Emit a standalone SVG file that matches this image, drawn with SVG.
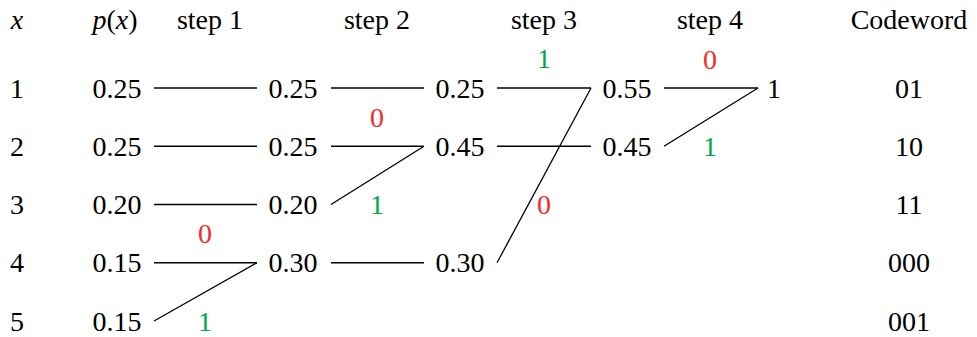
<svg xmlns="http://www.w3.org/2000/svg" width="977" height="337" viewBox="0 0 977 337">
<rect width="977" height="337" fill="#fff"/>
<g id="header" text-anchor="middle">
<text font-family="Liberation Serif" font-size="28" x="17" y="29" font-style="italic">x</text>
<text font-family="Liberation Serif" font-size="28" x="115" y="29"><tspan font-style="italic">p</tspan>(<tspan font-style="italic">x</tspan>)</text>
<text font-family="Liberation Serif" font-size="28" x="210" y="29">step 1</text>
<text font-family="Liberation Serif" font-size="28" x="377" y="29">step 2</text>
<text font-family="Liberation Serif" font-size="28" x="544" y="29">step 3</text>
<text font-family="Liberation Serif" font-size="28" x="710" y="29">step 4</text>
<text font-family="Liberation Serif" font-size="28" x="909" y="29">Codeword</text>
</g>
<g id="col-x" text-anchor="middle">
<text font-family="Liberation Serif" font-size="28" x="17" y="97.5">1</text>
<text font-family="Liberation Serif" font-size="28" x="17" y="155.75">2</text>
<text font-family="Liberation Serif" font-size="28" x="17" y="214">3</text>
<text font-family="Liberation Serif" font-size="28" x="17" y="272.25">4</text>
<text font-family="Liberation Serif" font-size="28" x="17" y="330.5">5</text>
</g>
<g id="col-p" text-anchor="middle">
<text font-family="Liberation Serif" font-size="28" x="117" y="97.5">0.25</text>
<text font-family="Liberation Serif" font-size="28" x="117" y="155.75">0.25</text>
<text font-family="Liberation Serif" font-size="28" x="117" y="214">0.20</text>
<text font-family="Liberation Serif" font-size="28" x="117" y="272.25">0.15</text>
<text font-family="Liberation Serif" font-size="28" x="117" y="330.5">0.15</text>
</g>
<g id="col-step2" text-anchor="middle">
<text font-family="Liberation Serif" font-size="28" x="293" y="97.5">0.25</text>
<text font-family="Liberation Serif" font-size="28" x="293" y="155.75">0.25</text>
<text font-family="Liberation Serif" font-size="28" x="293" y="214">0.20</text>
<text font-family="Liberation Serif" font-size="28" x="293" y="272.25">0.30</text>
</g>
<g id="col-step3" text-anchor="middle">
<text font-family="Liberation Serif" font-size="28" x="460" y="97.5">0.25</text>
<text font-family="Liberation Serif" font-size="28" x="460" y="155.75">0.45</text>
<text font-family="Liberation Serif" font-size="28" x="460" y="272.25">0.30</text>
</g>
<g id="col-step4" text-anchor="middle">
<text font-family="Liberation Serif" font-size="28" x="627" y="97.5">0.55</text>
<text font-family="Liberation Serif" font-size="28" x="627" y="155.75">0.45</text>
</g>
<g id="root" text-anchor="middle">
<text font-family="Liberation Serif" font-size="28" x="774" y="97.5">1</text>
</g>
<g id="codewords" text-anchor="middle">
<text font-family="Liberation Serif" font-size="28" x="909" y="97.5">01</text>
<text font-family="Liberation Serif" font-size="28" x="909" y="155.75">10</text>
<text font-family="Liberation Serif" font-size="28" x="909" y="214">11</text>
<text font-family="Liberation Serif" font-size="28" x="909" y="272.25">000</text>
<text font-family="Liberation Serif" font-size="28" x="909" y="330.5">001</text>
</g>
<g id="bits" text-anchor="middle">
<text font-family="Liberation Serif" font-size="28" x="205" y="243" fill="#f42b2b">0</text>
<text font-family="Liberation Serif" font-size="28" x="205" y="331" fill="#00a650">1</text>
<text font-family="Liberation Serif" font-size="28" x="377" y="127" fill="#f42b2b">0</text>
<text font-family="Liberation Serif" font-size="28" x="377" y="214" fill="#00a650">1</text>
<text font-family="Liberation Serif" font-size="28" x="544" y="68" fill="#00a650">1</text>
<text font-family="Liberation Serif" font-size="28" x="544" y="214" fill="#f42b2b">0</text>
<text font-family="Liberation Serif" font-size="28" x="710" y="69" fill="#f42b2b">0</text>
<text font-family="Liberation Serif" font-size="28" x="710" y="156" fill="#00a650">1</text>
</g>
<g id="connectors" stroke="#000" stroke-width="1.3">
<line x1="154" y1="88" x2="257" y2="88"/>
<line x1="154" y1="146.25" x2="257" y2="146.25"/>
<line x1="154" y1="204.5" x2="257" y2="204.5"/>
<line x1="154" y1="262.75" x2="257" y2="262.75"/>
<line x1="154" y1="321" x2="257" y2="262.75"/>
<line x1="331" y1="88" x2="424" y2="88"/>
<line x1="331" y1="146.25" x2="424" y2="146.25"/>
<line x1="331" y1="204.5" x2="424" y2="146.25"/>
<line x1="331" y1="262.75" x2="424" y2="262.75"/>
<line x1="497" y1="88" x2="591" y2="88"/>
<line x1="497" y1="262.75" x2="591" y2="88"/>
<line x1="497" y1="146.25" x2="591" y2="146.25"/>
<line x1="664" y1="88" x2="758" y2="88"/>
<line x1="664" y1="146.25" x2="758" y2="88"/>
</g>
</svg>
